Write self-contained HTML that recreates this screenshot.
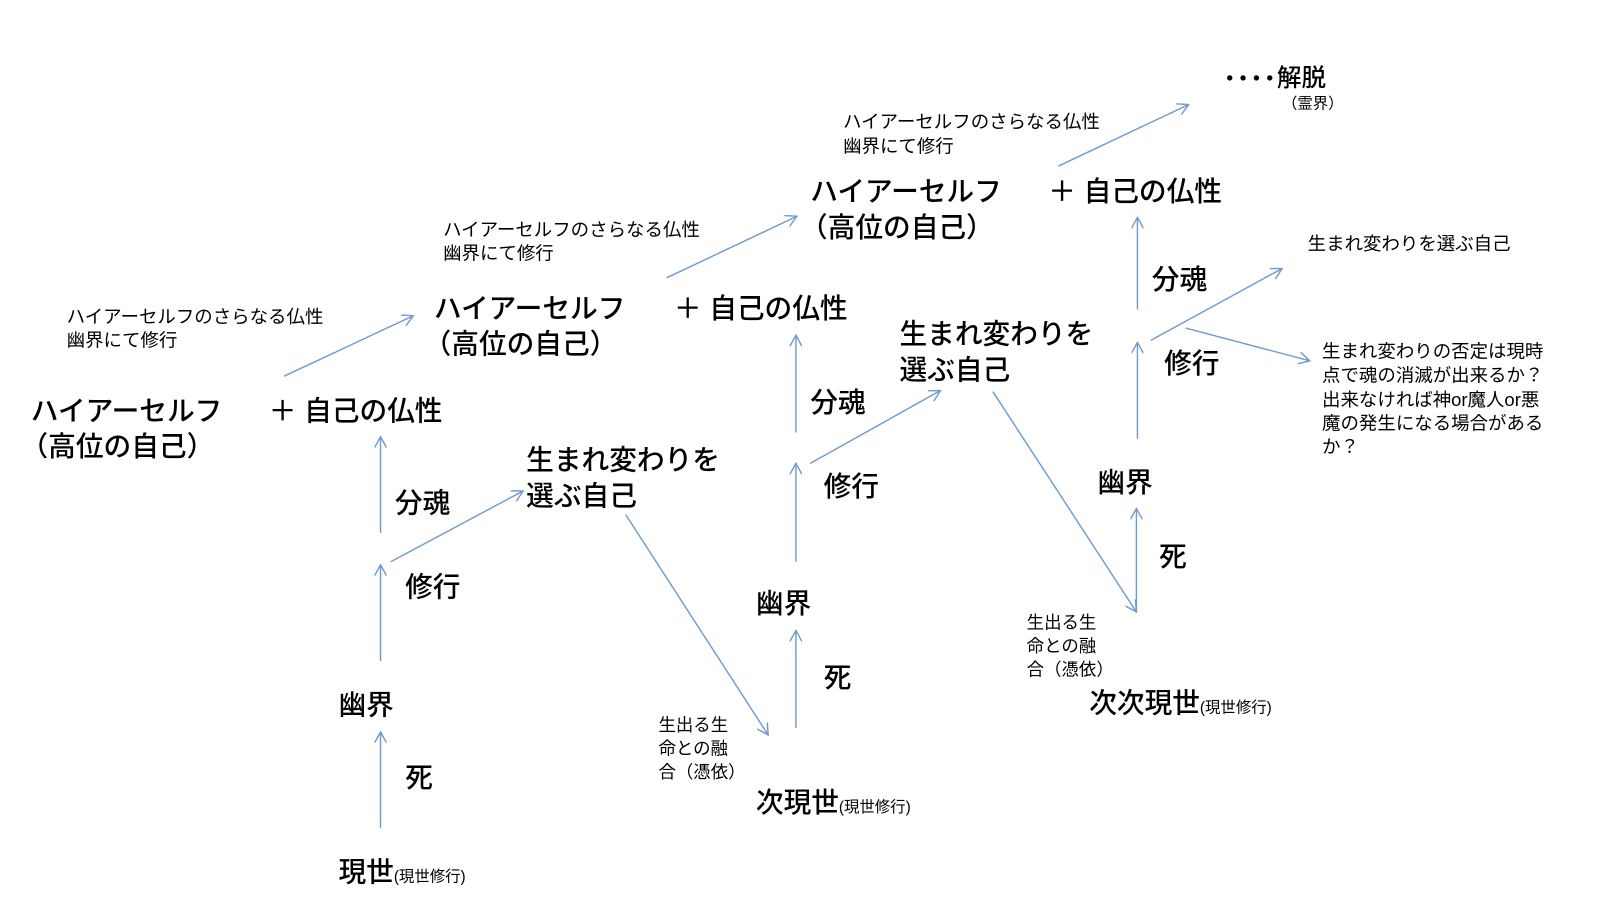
<!DOCTYPE html>
<html><head><meta charset="utf-8"><style>
html,body{margin:0;padding:0;background:#fff;}
svg{display:block;}
text{font-family:"Liberation Sans","Noto Sans CJK JP",sans-serif;fill:#000;}
.b{font-size:27px;font-weight:500;}
.s{font-size:18px;}
.t{font-size:15px;font-weight:400;}
.m{font-size:17px;}
line{stroke:#6f9bd0;stroke-width:1.4;}
</style></head><body>
<svg width="1600" height="900" viewBox="0 0 1560 878" preserveAspectRatio="none" xmlns="http://www.w3.org/2000/svg">
<defs><marker id="a" viewBox="0 0 12 12" refX="11" refY="6" markerWidth="12" markerHeight="12" markerUnits="userSpaceOnUse" orient="auto"><path d="M0,0 L11,6 L0,12" fill="none" stroke="#6f9bd0" stroke-width="1.4"/></marker></defs>

<!-- column 1 -->
<text class="b" x="30" y="410">ハイアーセルフ</text>
<text class="b" x="20" y="445">（高位の自己）</text>
<text class="b" x="262" y="410">＋ 自己の仏性</text>
<text class="s" x="65" y="315">ハイアーセルフのさらなる仏性</text>
<text class="s" x="65" y="338">幽界にて修行</text>
<line x1="277" y1="367" x2="403" y2="308" marker-end="url(#a)"/>
<line x1="371" y1="520" x2="371" y2="426" marker-end="url(#a)"/>
<text class="b" x="385" y="500">分魂</text>
<line x1="381" y1="548" x2="510" y2="479" marker-end="url(#a)"/>
<text class="b" x="395" y="582">修行</text>
<line x1="371" y1="645" x2="371" y2="551" marker-end="url(#a)"/>
<text class="b" x="513" y="458">生まれ変わりを</text>
<text class="b" x="513" y="493">選ぶ自己</text>
<text class="b" x="330" y="697">幽界</text>
<line x1="371" y1="808" x2="371" y2="714" marker-end="url(#a)"/>
<text class="b" x="395" y="768">死</text>
<text class="b" x="330" y="860">現世<tspan class="t">(現世修行)</tspan></text>

<!-- column 2 -->
<line x1="610" y1="502" x2="749" y2="717" marker-end="url(#a)"/>
<text class="m" x="642" y="713">生出る生</text>
<text class="m" x="642" y="736">命との融</text>
<text class="m" x="642" y="759">合（憑依）</text>
<text class="b" x="737" y="792">次現世<tspan class="t">(現世修行)</tspan></text>
<line x1="776" y1="710" x2="776" y2="615" marker-end="url(#a)"/>
<text class="b" x="803" y="670">死</text>
<text class="b" x="737" y="598">幽界</text>
<line x1="776" y1="548" x2="776" y2="452" marker-end="url(#a)"/>
<text class="b" x="803" y="484">修行</text>
<line x1="790" y1="452" x2="917" y2="381" marker-end="url(#a)"/>
<line x1="776" y1="422" x2="776" y2="327" marker-end="url(#a)"/>
<text class="b" x="790" y="402">分魂</text>
<text class="b" x="423" y="310">ハイアーセルフ</text>
<text class="b" x="413" y="345">（高位の自己）</text>
<text class="b" x="657" y="310">＋ 自己の仏性</text>
<text class="s" x="432" y="230">ハイアーセルフのさらなる仏性</text>
<text class="s" x="432" y="253">幽界にて修行</text>
<line x1="650" y1="271" x2="777" y2="211" marker-end="url(#a)"/>

<!-- column 3 -->
<text class="b" x="877" y="335">生まれ変わりを</text>
<text class="b" x="877" y="370">選ぶ自己</text>
<line x1="968" y1="382" x2="1108" y2="597" marker-end="url(#a)"/>
<text class="b" x="790" y="196">ハイアーセルフ</text>
<text class="b" x="780" y="231">（高位の自己）</text>
<text class="b" x="1022" y="196">＋ 自己の仏性</text>
<text class="s" x="822" y="125">ハイアーセルフのさらなる仏性</text>
<text class="s" x="822" y="149">幽界にて修行</text>
<line x1="1032" y1="162" x2="1159" y2="102" marker-end="url(#a)"/>
<g fill="#000"><circle cx="1199" cy="76" r="2.6"/><circle cx="1212" cy="76" r="2.6"/><circle cx="1225" cy="76" r="2.6"/><circle cx="1238" cy="76" r="2.6"/></g>
<text style="font-size:24px;font-weight:500" x="1245" y="84">解脱</text>
<text class="t" x="1250" y="106">（霊界）</text>
<line x1="1109" y1="302" x2="1109" y2="212" marker-end="url(#a)"/>
<text class="b" x="1123" y="282">分魂</text>
<line x1="1109" y1="428" x2="1109" y2="334" marker-end="url(#a)"/>
<text class="b" x="1135" y="364">修行</text>
<line x1="1122" y1="332" x2="1250" y2="262" marker-end="url(#a)"/>
<line x1="1156" y1="320" x2="1277" y2="352" marker-end="url(#a)"/>
<text class="s" x="1275" y="244">生まれ変わりを選ぶ自己</text>
<text class="s" x="1289" y="349">生まれ変わりの否定は現時</text>
<text class="s" x="1289" y="372">点で魂の消滅が出来るか？</text>
<text class="s" x="1289" y="396">出来なければ神or魔人or悪</text>
<text class="s" x="1289" y="419">魔の発生になる場合がある</text>
<text class="s" x="1289" y="442">か？</text>
<text class="b" x="1070" y="480">幽界</text>
<line x1="1108" y1="596" x2="1108" y2="496" marker-end="url(#a)"/>
<text class="b" x="1130" y="552">死</text>
<text class="m" x="1001" y="613">生出る生</text>
<text class="m" x="1001" y="636">命との融</text>
<text class="m" x="1001" y="659">合（憑依）</text>
<text class="b" x="1062" y="695">次次現世<tspan class="t">(現世修行)</tspan></text>
</svg>
</body></html>
